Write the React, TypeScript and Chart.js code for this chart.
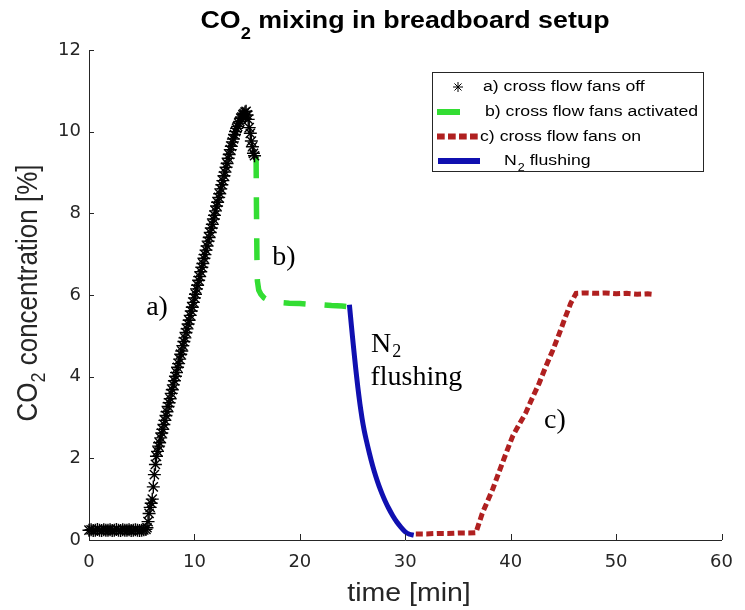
import React, { useEffect, useRef } from 'react';
import { Chart, registerables } from 'chart.js';

Chart.register(...registerables);

// ---- data ----
const aTime = [
  0.0, 0.2, 0.4, 0.6, 0.8, 1.0, 1.2, 1.4, 1.6, 1.8, 2.0, 2.2, 2.4, 2.6, 2.8, 3.0, 3.2, 3.4, 3.6, 3.8,
  4.0, 4.2, 4.4, 4.6, 4.8, 5.0, 5.2, 5.4,
  5.5, 5.6, 5.7, 5.8, 5.9, 6.0, 6.1, 6.2, 6.3, 6.4, 6.5, 6.6, 6.7, 6.8, 6.9, 7.0, 7.1, 7.2, 7.3, 7.4,
  7.5, 7.6, 7.7, 7.8, 7.9, 8.0, 8.1, 8.2, 8.3, 8.4, 8.5, 8.6, 8.7, 8.8, 8.9, 9.0, 9.1, 9.2, 9.3, 9.4,
  9.5, 9.6, 9.7, 9.8, 9.9, 10.0, 10.1, 10.2, 10.3, 10.4, 10.5, 10.6, 10.7, 10.8, 10.9, 11.0, 11.1, 11.2,
  11.3, 11.4, 11.5, 11.6, 11.7, 11.8, 11.9, 12.0, 12.1, 12.2, 12.3, 12.4, 12.5, 12.6, 12.7, 12.8, 12.9,
  13.0, 13.1, 13.2, 13.3, 13.4, 13.5, 13.6, 13.7, 13.8, 13.9, 14.0, 14.1, 14.2, 14.3, 14.4, 14.5, 14.6,
  14.7, 14.8, 14.9, 15.0, 15.1, 15.2, 15.3, 15.4, 15.5, 15.6, 15.7,
];
const aConc = [
  0.24, 0.25, 0.23, 0.24, 0.26, 0.24, 0.23, 0.25, 0.24, 0.24, 0.25, 0.23, 0.24, 0.26, 0.24, 0.23, 0.25, 0.24, 0.24, 0.25,
  0.23, 0.24, 0.25, 0.24, 0.23, 0.24, 0.25, 0.26,
  0.3, 0.45, 0.65, 0.8, 0.9, 1.0, 1.3, 1.6, 1.85, 2.05,
  2.17, 2.3, 2.38, 2.5, 2.62, 2.71, 2.83, 2.93, 3.05, 3.14,
  3.27, 3.36, 3.46, 3.59, 3.68, 3.8, 3.9, 4.01, 4.1, 4.23,
  4.32, 4.43, 4.55, 4.63, 4.76, 4.86, 4.95, 5.08, 5.17, 5.29,
  5.38, 5.5, 5.61, 5.7, 5.82, 5.93, 6.02, 6.15, 6.24, 6.36,
  6.45, 6.57, 6.68, 6.77, 6.9, 6.99, 7.1, 7.2, 7.32, 7.41,
  7.53, 7.64, 7.73, 7.86, 7.95, 8.06, 8.18, 8.27, 8.39, 8.48,
  8.6, 8.7, 8.8, 8.92, 9.01, 9.13, 9.22, 9.35, 9.44, 9.56,
  9.64, 9.75, 9.82, 9.93, 10.0, 10.08, 10.13, 10.21, 10.25, 10.33,
  10.36, 10.42, 10.44, 10.48, 10.5, 10.41, 10.3, 10.1, 9.96, 9.77,
  9.63, 9.47, 9.41,
];

const bTime = [15.85, 15.87, 15.9, 15.93, 15.97, 16.1, 16.3, 16.6, 17.0, 17.4, 18.0, 19.0, 20.0, 21.0, 22.0, 23.0, 24.0, 24.4];
const bConc = [9.4, 8.6, 7.7, 6.9, 6.35, 6.12, 6.02, 5.93, 5.87, 5.84, 5.82, 5.8, 5.79, 5.77, 5.76, 5.74, 5.73, 5.72];

const nTime = [24.7, 24.9, 25.1, 25.3, 25.5, 25.7, 25.9, 26.1, 26.3, 26.6, 26.9, 27.2, 27.5, 27.8, 28.1, 28.4, 28.8, 29.2, 29.6, 30.0, 30.4, 30.8];
const nConc = [5.76, 5.22, 4.7, 4.2, 3.74, 3.33, 2.98, 2.69, 2.45, 2.12, 1.82, 1.56, 1.33, 1.13, 0.95, 0.79, 0.6, 0.44, 0.31, 0.2, 0.14, 0.12];

const cTime = [31.0, 32.0, 33.0, 34.0, 35.0, 36.0, 36.7, 37.3, 37.8, 38.3, 38.8, 39.2, 39.7, 40.2, 40.8, 41.4, 42.0, 42.7, 43.3, 44.0, 44.6, 45.2, 45.7, 46.2, 47.0, 48.0, 49.0, 50.0, 51.0, 52.0, 53.0, 53.4];
const cConc = [0.15, 0.15, 0.16, 0.16, 0.17, 0.17, 0.18, 0.65, 0.95, 1.25, 1.6, 1.88, 2.22, 2.55, 2.83, 3.1, 3.45, 3.84, 4.23, 4.65, 5.05, 5.47, 5.8, 6.04, 6.05, 6.04, 6.05, 6.03, 6.04, 6.02, 6.03, 6.02];

const xTicks = [0, 10, 20, 30, 40, 50, 60];
const yTicks = [0, 2, 4, 6, 8, 10, 12];

const seriesLabels = ['a) cross flow fans off', 'b) cross flow fans activated', 'c) cross flow fans on', 'N2 flushing'];
const titleParts = ['CO', '2', ' mixing in breadboard setup'];
const yTitleParts = ['CO', '2', ' concentration [%]'];
const xTitle = 'time [min]';
const notes = [
  { text: 'a)', x: 5.42, y: 5.51 },
  { text: 'b)', x: 17.39, y: 6.74 },
  { text: 'c)', x: 43.16, y: 2.74 },
];

const zip = (xs: number[], ys: number[]) => xs.map((x, i) => ({ x, y: ys[i] }));

const SX = 1.14; // horizontal stretch of the reference's sans text
const SANS = '"Liberation Sans", Arial, sans-serif';
const SERIF = '"Liberation Serif", "Times New Roman", serif';
const AXIS_COLOR = '#262626';

function sText(ctx: CanvasRenderingContext2D, t: string, x: number, y: number) {
  ctx.save();
  ctx.translate(x, y);
  ctx.scale(SX, 1);
  ctx.fillText(t, 0, 0);
  ctx.restore();
}
function sWidth(ctx: CanvasRenderingContext2D, t: string) {
  return ctx.measureText(t).width * SX;
}

const decor = {
  id: 'decor',
  afterDatasetsDraw(chart: any) {
    const ctx: CanvasRenderingContext2D = chart.ctx;
    const xs = chart.scales.x;
    const ys = chart.scales.y;
    const { left, bottom } = chart.chartArea;
    ctx.save();
    // inward tick marks
    ctx.strokeStyle = AXIS_COLOR;
    ctx.lineWidth = 1;
    ctx.beginPath();
    xTicks.forEach((v) => {
      if (v === 0) return;
      const px = Math.round(xs.getPixelForValue(v)) + 0.5;
      ctx.moveTo(px, bottom);
      ctx.lineTo(px, bottom - 6);
    });
    yTicks.forEach((v) => {
      if (v === 0) return;
      const py = Math.round(ys.getPixelForValue(v)) + 0.5;
      ctx.moveTo(left, py);
      ctx.lineTo(left + 5, py);
    });
    ctx.stroke();

    // annotations (serif)
    ctx.fillStyle = '#000';
    ctx.textAlign = 'left';
    ctx.textBaseline = 'alphabetic';
    ctx.font = `28px ${SERIF}`;
    notes.forEach((n) => ctx.fillText(n.text, xs.getPixelForValue(n.x), ys.getPixelForValue(n.y)));
    // N2 flushing
    const nx = xs.getPixelForValue(26.74);
    const ny = ys.getPixelForValue(4.6);
    ctx.fillText('N', nx, ny);
    const wN = ctx.measureText('N').width;
    ctx.font = `18px ${SERIF}`;
    ctx.fillText('2', nx + wN + 1, ny + 5);
    ctx.font = `28px ${SERIF}`;
    ctx.fillText('flushing', nx - 0.5, ys.getPixelForValue(3.8));
    ctx.restore();
  },
  afterDraw(chart: any) {
    const ctx: CanvasRenderingContext2D = chart.ctx;
    ctx.save();
    ctx.fillStyle = '#000';
    ctx.textBaseline = 'alphabetic';
    ctx.textAlign = 'left';

    // title
    const fMain = `bold 23.5px ${SANS}`;
    const fSub = `bold 16px ${SANS}`;
    ctx.font = fMain;
    const w1 = sWidth(ctx, titleParts[0]);
    const w3 = sWidth(ctx, titleParts[2]);
    ctx.font = fSub;
    const w2 = sWidth(ctx, titleParts[1]);
    let tx = 405 - (w1 + w2 + w3) / 2;
    ctx.font = fMain;
    sText(ctx, titleParts[0], tx, 28);
    tx += w1;
    ctx.font = fSub;
    sText(ctx, titleParts[1], tx, 39);
    tx += w2;
    ctx.font = fMain;
    sText(ctx, titleParts[2], tx, 28);

    // x title
    ctx.fillStyle = AXIS_COLOR;
    ctx.font = `25px ${SANS}`;
    const wx = sWidth(ctx, xTitle);
    sText(ctx, xTitle, 409 - wx / 2, 601);

    // y title (rotated; stretched across its height)
    ctx.save();
    ctx.translate(37, 293);
    ctx.rotate(-Math.PI / 2);
    ctx.scale(1, SX);
    ctx.font = `26px ${SANS}`;
    const y1 = ctx.measureText(yTitleParts[0]).width;
    const y3 = ctx.measureText(yTitleParts[2]).width;
    ctx.font = `18px ${SANS}`;
    const y2 = ctx.measureText(yTitleParts[1]).width;
    let ty = -(y1 + y2 + y3) / 2;
    ctx.font = `26px ${SANS}`;
    ctx.fillText(yTitleParts[0], ty, 0);
    ty += y1;
    ctx.font = `18px ${SANS}`;
    ctx.fillText(yTitleParts[1], ty, 7.3);
    ty += y2;
    ctx.font = `26px ${SANS}`;
    ctx.fillText(yTitleParts[2], ty, 0);
    ctx.restore();

    // legend
    const bx = 432.5, by = 72.5, bw = 271, bh = 99;
    ctx.fillStyle = '#fff';
    ctx.fillRect(bx, by, bw, bh);
    ctx.strokeStyle = AXIS_COLOR;
    ctx.lineWidth = 1;
    ctx.strokeRect(bx, by, bw, bh);
    const rows = [87, 112, 136.5, 161];
    // star
    ctx.strokeStyle = '#000';
    ctx.lineWidth = 1;
    ctx.beginPath();
    const sx0 = 458, sy0 = rows[0], r = 5;
    ctx.moveTo(sx0 - r, sy0); ctx.lineTo(sx0 + r, sy0);
    ctx.moveTo(sx0, sy0 - r); ctx.lineTo(sx0, sy0 + r);
    const d = r * Math.SQRT1_2;
    ctx.moveTo(sx0 - d, sy0 - d); ctx.lineTo(sx0 + d, sy0 + d);
    ctx.moveTo(sx0 - d, sy0 + d); ctx.lineTo(sx0 + d, sy0 - d);
    ctx.stroke();
    // green
    ctx.lineWidth = 6;
    ctx.strokeStyle = '#33dd33';
    ctx.beginPath(); ctx.moveTo(437, rows[1]); ctx.lineTo(460, rows[1]); ctx.stroke();
    // red dotted
    ctx.strokeStyle = '#b02020';
    ctx.setLineDash([7.7, 3.3]);
    ctx.beginPath(); ctx.moveTo(437, rows[2]); ctx.lineTo(478, rows[2]); ctx.stroke();
    ctx.setLineDash([]);
    // blue
    ctx.strokeStyle = '#1010b0';
    ctx.beginPath(); ctx.moveTo(438, rows[3]); ctx.lineTo(480, rows[3]); ctx.stroke();

    ctx.fillStyle = '#000';
    ctx.textBaseline = 'middle';
    ctx.font = `15.5px ${SANS}`;
    sText(ctx, seriesLabels[0], 483, rows[0]);
    sText(ctx, seriesLabels[1], 485, rows[1]);
    sText(ctx, seriesLabels[2], 480, rows[2]);
    // N2 flushing
    let lx = 504;
    sText(ctx, 'N', lx, rows[3]);
    lx += sWidth(ctx, 'N') + 1;
    ctx.font = `11px ${SANS}`;
    sText(ctx, '2', lx, rows[3] + 7);
    lx += sWidth(ctx, '2');
    ctx.font = `15.5px ${SANS}`;
    sText(ctx, ' flushing', lx, rows[3]);
    ctx.restore();
  },
};

export default function App() {
  const ref = useRef<HTMLCanvasElement>(null);
  useEffect(() => {
    document.body.style.margin = '0';
    const chart = new Chart(ref.current as HTMLCanvasElement, {
      type: 'scatter',
      data: {
        datasets: [
          {
            label: seriesLabels[0],
            data: zip(aTime, aConc),
            showLine: false,
            pointStyle: 'star',
            pointRadius: 6.5,
            pointBorderWidth: 1.4,
            borderColor: '#000',
            backgroundColor: '#000',
            clip: false,
          } as any,
          {
            label: seriesLabels[1],
            data: zip(bTime, bConc),
            showLine: true,
            borderColor: '#33dd33',
            borderWidth: 5.5,
            borderDash: [22, 19],
            pointRadius: 0,
            fill: false,
          },
          {
            label: seriesLabels[2],
            data: zip(cTime, cConc),
            showLine: true,
            borderColor: '#b02020',
            borderWidth: 5,
            borderDash: [7, 3.5],
            pointRadius: 0,
            fill: false,
          },
          {
            label: seriesLabels[3],
            data: zip(nTime, nConc),
            showLine: true,
            borderColor: '#1010b0',
            borderWidth: 5,
            pointRadius: 0,
            tension: 0.2,
            fill: false,
          },
        ],
      },
      options: {
        animation: false,
        responsive: false,
        devicePixelRatio: 1,
        layout: { padding: { left: 0, right: 22, top: 50, bottom: 0 } },
        plugins: {
          legend: { display: false },
          title: { display: false },
          tooltip: { enabled: false },
        },
        scales: {
          x: {
            type: 'linear',
            min: 0,
            max: 60,
            afterBuildTicks: (s: any) => { s.ticks = xTicks.map((v) => ({ value: v })); },
            afterFit: (s: any) => { s.height = 70; },
            grid: { display: false, drawTicks: false },
            border: { display: true, color: AXIS_COLOR, width: 1 },
            ticks: {
              font: { family: 'DejaVu Sans', size: 18 },
              color: AXIS_COLOR,
              padding: 12,
              maxRotation: 0,
              autoSkip: false,
            },
          },
          y: {
            type: 'linear',
            min: 0,
            max: 12,
            afterBuildTicks: (s: any) => { s.ticks = yTicks.map((v) => ({ value: v })); },
            afterFit: (s: any) => { s.width = 89; },
            grid: { display: false, drawTicks: false },
            border: { display: true, color: AXIS_COLOR, width: 1 },
            ticks: {
              font: { family: 'DejaVu Sans', size: 18 },
              color: AXIS_COLOR,
              padding: 8,
              autoSkip: false,
            },
          },
        },
      },
      plugins: [decor],
    });
    return () => chart.destroy();
  }, []);
  return (
    <div style={{ width: 745, height: 610 }}>
      <canvas ref={ref} width={745} height={610} style={{ display: 'block' }} />
    </div>
  );
}
